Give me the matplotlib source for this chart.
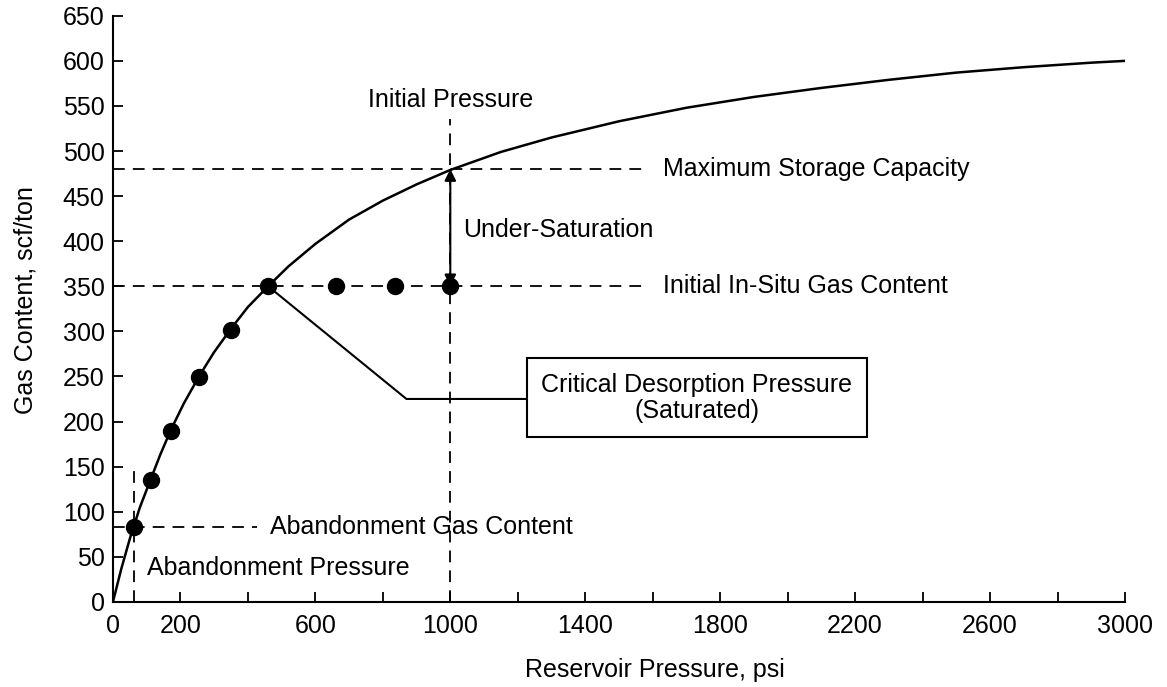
import matplotlib.pyplot as plt
from matplotlib.patches import Rectangle

plt.rcParams['font.family'] = ['Liberation Sans', 'DejaVu Sans']

# Langmuir isotherm (psi, scf/ton)
curve_p = [0, 25, 50, 62, 80, 113, 140, 172, 210, 255, 300, 350, 400, 460, 520, 600,
           700, 800, 900, 1000, 1150, 1300, 1500, 1700, 1900, 2100, 2300, 2500, 2700, 2900, 3000]
curve_v = [0, 37, 70, 84, 105, 137, 163, 191, 220, 250, 277, 303, 327, 350, 372, 397,
           424, 445, 463, 479, 499, 515, 533, 548, 560, 570, 579, 587, 593, 598, 600]

# measured points (desorption path + under-saturated points)
pts_p = [62, 113, 172, 255, 350, 460, 660, 835, 1000]
pts_v = [83, 135, 190, 249, 302, 350, 350, 350, 350]

initial_p = 1000
max_storage = 480
insitu_gc = 350
aband_p = 62
aband_gc = 83
crit_p = 460

xticks = list(range(0, 3001, 200))
xlabels = ['0', '200', '', '600', '', '1000', '', '1400', '', '1800', '', '2200', '', '2600', '', '3000']
yticks = list(range(0, 651, 50))

fig = plt.figure(figsize=(11.67, 6.87), dpi=100)
ax = fig.add_axes([0.0968, 0.124, 0.8672, 0.853])

dash = dict(color='black', lw=1.3, dashes=(6.5, 4.5))
fs = 18

ax.plot(curve_p, curve_v, color='black', lw=1.8, zorder=3)
ax.plot(pts_p, pts_v, 'o', color='black', ms=11.5, zorder=4)

# reference lines
ax.plot([0, 1575], [max_storage, max_storage], **dash)
ax.plot([0, 1575], [insitu_gc, insitu_gc], **dash)
ax.plot([initial_p, initial_p], [0, 536], **dash)
ax.plot([0, 426], [aband_gc, aband_gc], **dash)
ax.plot([aband_p, aband_p], [0, 150], **dash)

ax.text(1630, max_storage, 'Maximum Storage Capacity', fontsize=fs, va='center')
ax.text(1630, insitu_gc, 'Initial In-Situ Gas Content', fontsize=fs, va='center')
ax.text(initial_p, 557, 'Initial Pressure', fontsize=fs, ha='center', va='center')
ax.text(465, aband_gc, 'Abandonment Gas Content', fontsize=fs, va='center')
ax.text(100, 37, 'Abandonment Pressure', fontsize=fs, va='center')
ax.text(1038, 412, 'Under-Saturation', fontsize=fs, va='center')

# under-saturation arrow
ax.annotate('', xy=(initial_p, max_storage), xytext=(initial_p, insitu_gc),
            arrowprops=dict(arrowstyle='<|-|>', color='black', lw=1.5,
                            mutation_scale=17, shrinkA=0, shrinkB=0))

# critical desorption callout
ax.plot([crit_p, 870, 1226], [insitu_gc, 225, 225], color='black', lw=1.5, zorder=2)
ax.add_patch(Rectangle((1226, 183), 1009, 87, fill=False, edgecolor='black', lw=1.5))
ax.text(1730, 226, 'Critical Desorption Pressure\n(Saturated)', fontsize=fs,
        ha='center', va='center', linespacing=1.1)

ax.set_xlim(0, 3000)
ax.set_ylim(0, 650)
ax.set_xticks(xticks)
ax.set_xticklabels(xlabels)
ax.set_yticks(yticks)
for side in ['top', 'right']:
    ax.spines[side].set_visible(False)
for side in ['left', 'bottom']:
    ax.spines[side].set_linewidth(1.5)
ax.tick_params(axis='both', direction='in', length=7, width=1.3, labelsize=fs)
ax.tick_params(axis='y', pad=6)
ax.tick_params(axis='x', pad=9)

ax.set_xlabel('Reservoir Pressure, psi', fontsize=fs, labelpad=14, x=0.535)
ax.set_ylabel('Gas Content, scf/ton', fontsize=fs, labelpad=18, y=0.515)

fig.savefig('out.png', dpi=100)
